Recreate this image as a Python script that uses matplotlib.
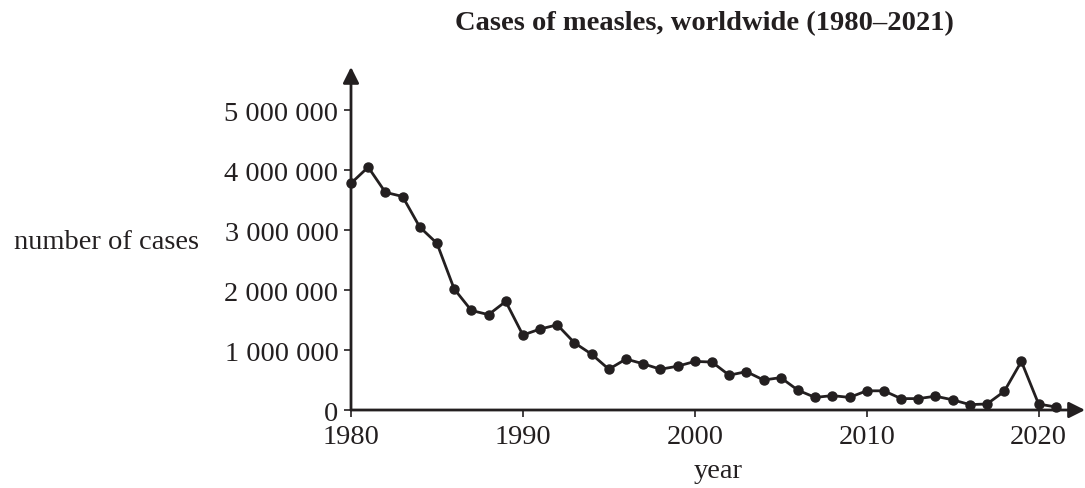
import matplotlib.pyplot as plt

plt.rcParams['font.family'] = ['Liberation Serif', 'DejaVu Serif']

# measles cases per year
years = list(range(1980, 2022))
cases = [3780000, 4050000, 3630000, 3560000, 3050000, 2780000, 2020000, 1660000,
         1590000, 1810000, 1250000, 1350000, 1420000, 1120000, 930000, 680000,
         850000, 770000, 680000, 730000, 810000, 800000, 580000, 640000,
         500000, 540000, 330000, 210000, 240000, 210000, 320000, 320000,
         190000, 190000, 230000, 170000, 90000, 100000, 310000, 810000,
         100000, 50000]

y_ticks = [0, 1000000, 2000000, 3000000, 4000000, 5000000]
y_labels = ['0', '1 000 000', '2 000 000', '3 000 000', '4 000 000', '5 000 000']
x_ticks = [1980, 1990, 2000, 2010, 2020]

ink = '#231f20'
fs = 20.5

fig = plt.figure(figsize=(10.85, 4.89), dpi=100)
ax = fig.add_axes([0.3235, 0.1595, 0.6765, 0.7015])

ax.plot(years, cases, color=ink, lw=2, marker='o', ms=6.5, clip_on=False, zorder=3)

ax.set_xlim(1980, 2022.7)
ax.set_ylim(0, 5720000)

for s in ax.spines.values():
    s.set_visible(False)

# axes drawn as arrows
ax.annotate('', xy=(1, 0), xytext=(0, 0), xycoords='axes fraction',
            arrowprops=dict(arrowstyle='-|>', color=ink, lw=2,
                            mutation_scale=24, shrinkA=0, shrinkB=0))
ax.annotate('', xy=(0, 1), xytext=(0, 0), xycoords='axes fraction',
            arrowprops=dict(arrowstyle='-|>', color=ink, lw=2,
                            mutation_scale=24, shrinkA=0, shrinkB=0))

ax.set_yticks(y_ticks)
ax.set_yticklabels(y_labels)
ax.set_xticks(x_ticks)
ax.tick_params(axis='both', colors=ink, labelcolor=ink, labelsize=fs, width=1.2)
ax.tick_params(axis='x', length=5, pad=5)
ax.tick_params(axis='y', length=5, pad=4)

ax.text(-0.207, 0.49, 'number of cases', transform=ax.transAxes, fontsize=fs,
        color=ink, ha='right', va='center')
fig.text(0.662, 0.035, 'year', fontsize=fs, color=ink, ha='center', va='center')
fig.text(0.649, 0.951, 'Cases of measles, worldwide (1980\u20132021)', fontsize=fs,
         fontweight='bold', color=ink, ha='center', va='center')

fig.savefig('out.png', dpi=100)
